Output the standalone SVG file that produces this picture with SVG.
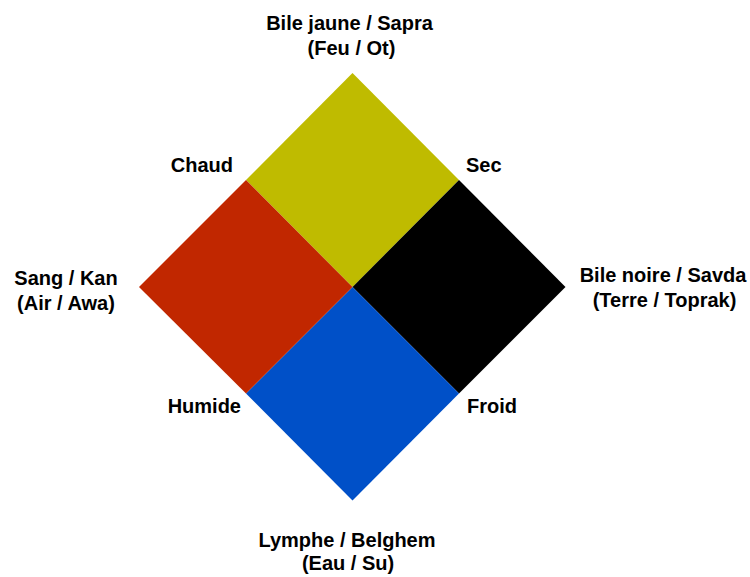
<svg xmlns="http://www.w3.org/2000/svg" width="750" height="577" viewBox="0 0 750 577">
<style>
text{font-family:"Liberation Sans",Arial,sans-serif;font-weight:bold;font-size:20px;fill:#000}
.m{text-anchor:middle}
.e{text-anchor:end}
</style>
<rect width="750" height="577" fill="#fff"/>
<g id="jaune"><polygon points="352.5,73 459,180 352.5,287 246,180" fill="#BFBB00"/></g>
<g id="noire"><polygon points="459,180 565.5,287 459,393.5 352.5,287" fill="#000"/></g>
<g id="lymphe"><polygon points="352.5,287 459,393.5 352.5,500.5 246,393.5" fill="#0050C8"/></g>
<g id="sang"><polygon points="246,180 352.5,287 246,393.5 139,287" fill="#C12700"/></g>
<g id="connectors"></g>
<g id="labels">
<text class="m" x="349.5" y="30">Bile jaune / Sapra</text>
<text class="m" x="351.5" y="55">(Feu / Ot)</text>
<text class="e" x="233" y="172">Chaud</text>
<text x="466" y="172">Sec</text>
<text class="m" x="66" y="285">Sang / Kan</text>
<text class="m" x="66" y="310">(Air / Awa)</text>
<text class="m" x="663" y="282">Bile noire / Savda</text>
<text class="m" x="664.5" y="307">(Terre / Toprak)</text>
<text class="e" x="241" y="413">Humide</text>
<text x="467" y="413">Froid</text>
<text class="m" x="347" y="547">Lymphe / Belghem</text>
<text class="m" x="348" y="570">(Eau / Su)</text>
</g>
</svg>
